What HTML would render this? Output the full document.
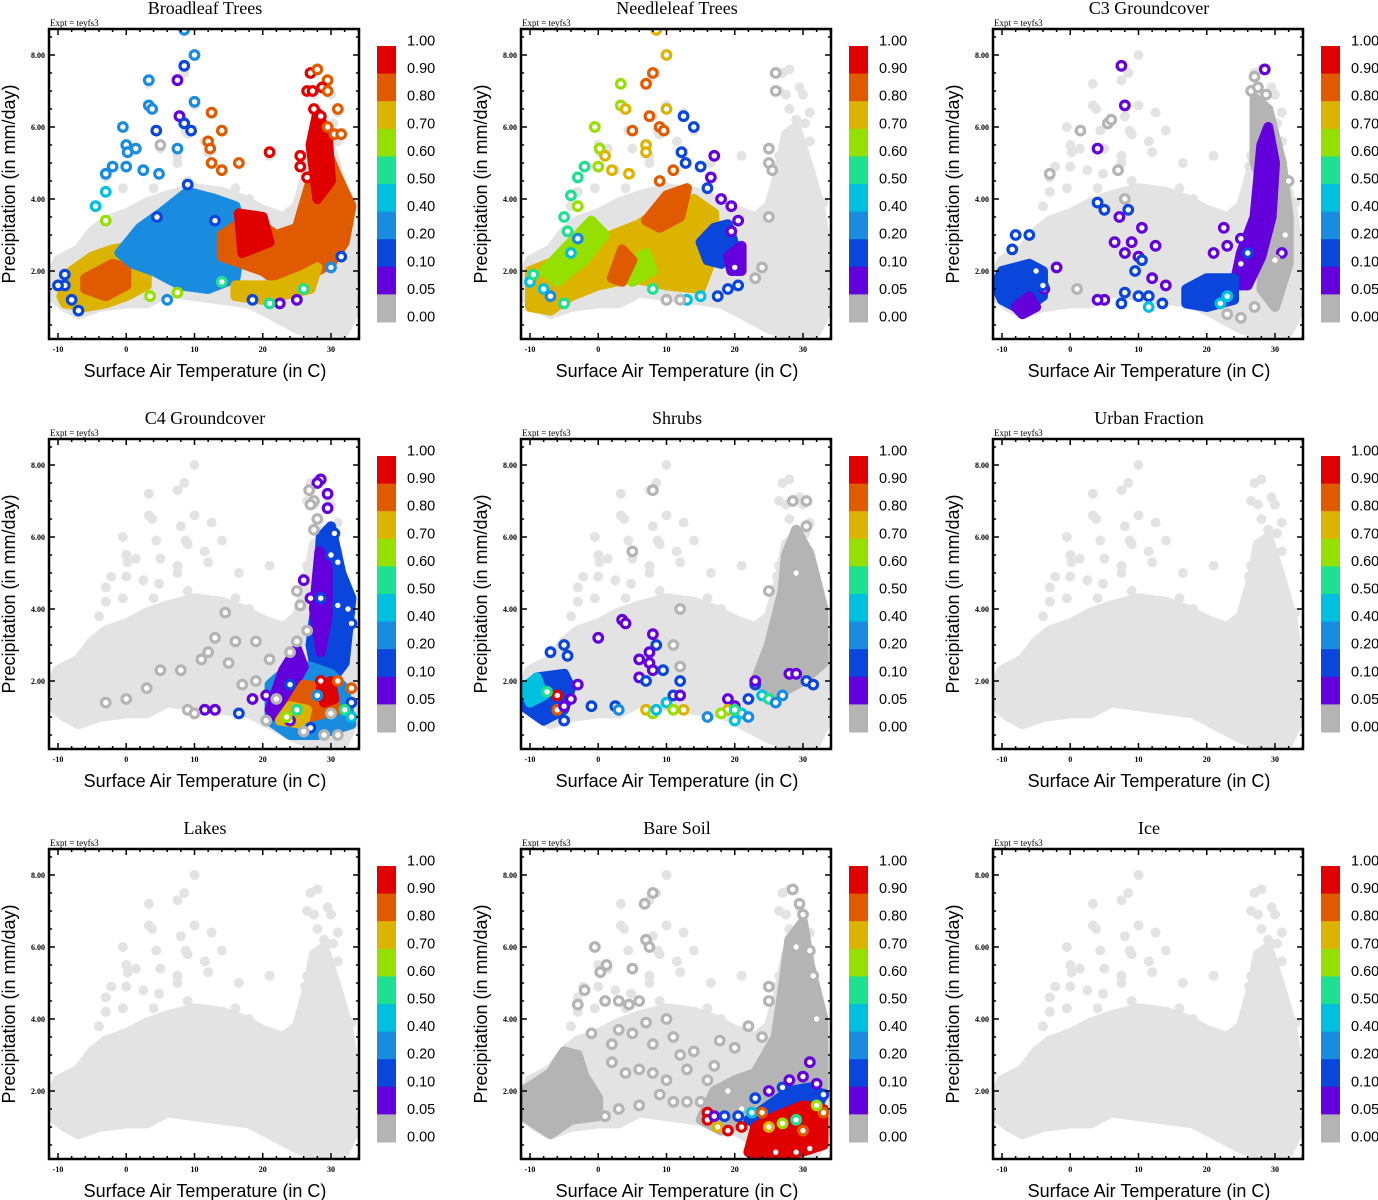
<!DOCTYPE html>
<html><head><meta charset="utf-8"><style>
html,body{margin:0;padding:0;background:#fff;width:1378px;height:1200px;overflow:hidden}
svg{display:block}
</style></head><body>
<svg id="chart" width="1378" height="1200" xmlns="http://www.w3.org/2000/svg"></svg>
<script>
// ---- data (temperature C, precipitation mm/day, colour category) ----
const catColors = ["#e3e3e3","#b4b4b4","#6400dc","#0a46dc","#1a8ce0","#00c0e0","#1ee090","#96e000","#dcb400","#e05a00","#e00000"];
const barLabels = ["1.00","0.90","0.80","0.70","0.60","0.50","0.40","0.20","0.10","0.05","0.00"];
const xTicks = [-10,0,10,20,30];
const yTicks = [2,4,6,8];
const titles = ["Broadleaf Trees","Needleleaf Trees","C3 Groundcover","C4 Groundcover","Shrubs","Urban Fraction","Lakes","Bare Soil","Ice"];
const cloudHull = [[-11,1.9],[-10,2.3],[-7,2.6],[-5,3.1],[-3,3.4],[0,3.6],[3,3.9],[6,4.1],[10,4.3],[14,4.2],[17,4.0],[20,3.7],[23,3.5],[25,3.8],[26.5,4.8],[27.5,5.8],[29,6.0],[31,4.8],[32.5,3.8],[33.5,2.5],[33,1.5],[33.5,0.9],[32,0.3],[28,0.2],[25,0.4],[22,0.7],[20,0.9],[18,1.1],[14,1.2],[10,1.3],[6,1.4],[3,1.1],[0,1.1],[-4,1.0],[-7,0.8],[-9,1.0],[-11,1.3]];
const cloudOutliers = [[10,8.0],[8.5,7.5],[3.3,7.2],[7.5,7.3],[3.3,6.6],[3.8,6.5],[8,6.3],[-0.5,6.0],[8.7,5.9],[9,5.8],[10,6.6],[12.5,6.4],[14,5.9],[4.4,5.9],[0,5.5],[0.2,5.3],[1.4,5.4],[5,5.4],[11.5,5.6],[12,5.3],[7.5,5.2],[7.5,5.0],[21,5.2],[16.5,5.0],[-2.2,4.9],[0,4.9],[2.5,4.8],[-3,4.6],[4.8,4.7],[-0.5,4.3],[27,7.5],[28,7.6],[26.5,7.0],[27.5,6.9],[29.5,7.1],[30,6.9],[31,6.4],[28,6.5],[29,6.2],[30.3,6.1],[28.5,5.9],[31,5.6],[26.5,5.2],[26.2,4.9],[26.5,4.4],[4,4.3],[9,4.5],[-4,3.8],[-3,4.2],[16,4.3],[18,4.0],[33,3.9],[33.5,1.8],[-11,1.6]];

const regions0 = [[8,[[-9.5,1.3],[-8,2.0],[-5,2.4],[-2,2.6],[1,2.7],[3,2.3],[3,1.6],[0,1.3],[-3,1.1],[-6,1.0],[-9,1.1]]],[9,[[-6,1.8],[-4,2.0],[-2,2.2],[0,2.1],[0,1.6],[-3,1.3],[-6,1.5]]],[4,[[-1,2.5],[2,3.2],[5,3.6],[9,4.2],[13,4.0],[16,3.8],[17,3.0],[16,1.8],[12,1.5],[8,1.6],[4,2.0],[1,2.2]]],[9,[[14,3.0],[18,3.5],[22,3.0],[25,3.2],[27,4.5],[29,5.5],[31,4.6],[33,3.8],[32,2.8],[30,2.2],[26,1.8],[23,1.6],[20,2.0],[17,2.2],[14,2.4]]],[10,[[16.5,3.6],[20,3.5],[21,2.8],[17,2.5]]],[10,[[27,5.5],[28,6.4],[29.5,5.8],[30,4.5],[28,4.0]]],[8,[[16,1.6],[22,1.6],[26,1.9],[28,2.1],[27,1.5],[20,1.2],[16,1.3]]]];
const points0 = [[8.5,8.7,4],[10,8.0,4],[8.5,7.7,3],[3.3,7.3,4],[7.5,7.3,2],[3.3,6.6,4],[3.8,6.5,4],[10,6.7,4],[7.8,6.3,2],[12.5,6.4,9],[-0.5,6.0,4],[8.5,6.1,3],[9.5,5.9,3],[14,5.9,9],[4.4,5.9,3],[12,5.6,9],[0,5.5,4],[0.2,5.3,4],[1.4,5.4,4],[7.5,5.4,4],[12.3,5.4,9],[21,5.3,10],[16.5,5.0,9],[-2,4.9,4],[0,4.9,4],[2.5,4.8,4],[-3,4.7,4],[4.8,4.7,4],[12.5,5.0,9],[14,4.8,9],[27,7.5,10],[28,7.6,9],[26.5,7.0,10],[27.3,7.0,10],[29.5,7.3,9],[28.7,7.1,10],[29.5,7.0,9],[31,6.5,9],[27.5,6.5,10],[28.5,6.3,10],[29.5,6.0,9],[30.5,5.8,9],[31.5,5.8,9],[25.5,5.2,10],[25.5,4.9,10],[26.5,4.6,10],[-4.5,3.8,5],[-3,4.2,5],[-3,3.4,7],[5,5.5,1],[31.5,2.4,3],[30,2.1,4],[22.5,1.1,2],[25,1.2,2],[26,1.5,6],[21,1.1,6],[18.5,1.2,3],[13,3.4,3],[9,4.4,3],[4.5,3.5,3],[-7,0.9,3],[-8,1.2,3],[-9,1.6,3],[-10,1.6,3],[-9,1.9,3],[6,1.2,4],[7.5,1.4,7],[3.5,1.3,7],[14,1.7,6]];

const regions1 = [[8,[[-10,1.0],[-10,2.0],[-6,2.3],[-2,2.6],[2,3.0],[6,3.3],[10,3.8],[14,4.0],[17,3.6],[17,2.5],[15,1.5],[10,1.6],[5,1.8],[0,1.6],[-4,1.3],[-7,0.9]]],[7,[[-8,2.0],[-4,2.8],[-1,3.4],[1,3.0],[-2,2.3],[-6,1.7]]],[7,[[3,2.0],[7,2.5],[8,2.0],[5,1.7]]],[9,[[2,1.8],[3.5,2.6],[5,2.3],[3.5,1.7]]],[9,[[7,3.4],[10,4.1],[13,4.3],[12,3.5],[9,3.2]]],[3,[[15,2.8],[17,3.2],[19,3.3],[20,2.7],[18,2.2],[16,2.3]]],[2,[[19,2.4],[21,2.7],[21,2.0],[19.5,2.0]]]];
const points1 = [[8.5,8.7,8],[10,8.0,8],[8,7.5,9],[7,7.2,9],[3.3,7.2,7],[3.3,6.6,7],[4,6.5,8],[10,6.5,8],[12.5,6.3,3],[14,6.0,3],[7.5,6.3,9],[9,6.0,9],[9.6,5.9,9],[5,5.9,9],[-0.5,6.0,7],[0.2,5.4,7],[1,5.2,8],[7,5.5,8],[7,5.3,8],[12.2,5.3,3],[12.8,5.0,3],[17,5.2,2],[15,4.9,3],[-2,4.9,6],[0,4.9,7],[2,4.8,8],[-3,4.6,6],[4.5,4.7,8],[9,4.5,9],[11,4.8,9],[16,4.3,3],[16.5,4.6,2],[18,4.0,2],[19.5,3.8,2],[20.5,3.4,2],[19.5,3.1,2],[20,2.1,2],[20.5,1.6,3],[19,1.5,3],[17.5,1.3,3],[15,1.3,5],[13,1.2,5],[12,1.2,1],[10,1.2,1],[8,1.5,6],[-10,1.7,5],[-9.5,1.9,6],[-8,1.5,5],[-7,1.3,4],[-5,1.1,6],[-4,2.5,5],[-4.5,3.1,6],[-5,3.5,6],[-3,3.8,7],[-4,4.1,6],[-3,2.9,4],[26,7.5,1],[26,7.0,1],[25,5.4,1],[25,5.0,1],[25.5,4.8,1],[25,3.5,1],[24,2.1,1],[23,1.8,1]];

const regions2 = [[3,[[-11,1.6],[-10,2.0],[-6,2.2],[-4,2.0],[-4,1.3],[-7,0.9],[-10,1.2]]],[2,[[-8,1.0],[-6,1.3],[-5,1.0],[-7,0.8]]],[1,[[27,6.8],[29,6.5],[31,5.0],[32,3.5],[32,2.2],[30,1.0],[28,1.5],[29,4],[27,5]]],[2,[[25,2.5],[27,3.5],[28,5.5],[29,6.0],[30,5.0],[29.5,3.5],[28,2.4],[26,1.6],[24,1.6]]],[3,[[17,1.5],[20,1.8],[24,1.8],[24,1.2],[20,1.0],[17,1.1]]]];
const points2 = [[28.5,7.6,2],[7.5,7.7,2],[8,6.6,2],[4,5.4,2],[27,7.4,1],[26.5,7.0,1],[27.5,7.1,1],[28.7,6.9,1],[1.5,5.9,1],[5.5,6.1,1],[6,6.2,1],[-3,4.7,1],[8,4.0,1],[7,4.8,1],[8.5,3.7,3],[4,3.9,3],[5,3.7,3],[-8,3.0,3],[-6,3.0,3],[-8.5,2.6,3],[8,2.5,2],[10,2.4,2],[12.5,2.7,2],[10.5,3.2,2],[7.2,3.5,2],[6.5,2.8,2],[9,2.8,2],[9.5,2.0,3],[10.5,2.3,3],[11.5,1.3,3],[10,1.3,3],[8,1.4,3],[7.5,1.1,3],[13.5,1.1,3],[12,1.8,2],[14,1.6,2],[5,1.2,2],[4,1.2,2],[1,1.5,1],[-2,2.1,2],[-3.8,1.5,2],[-5,2.0,3],[-4,1.6,3],[21,2.5,2],[22.5,3.2,2],[23,2.7,2],[25,2.2,2],[25,2.9,2],[26,2.5,3],[31,2.5,2],[23,1.3,5],[22,1.1,5],[11.5,1.0,5],[32,4.5,1],[31.5,3.0,1],[27,1.0,1],[25,0.7,1],[23,0.8,1],[30,2.3,1]];

const regions3 = [[3,[[27,3.0],[28,4.5],[28.5,6.0],[30,6.3],[31.5,5.0],[33,4.3],[32,2.5],[30,2.0],[28,2.0]]],[2,[[27.5,4],[28.3,5.6],[29.5,5.2],[29.5,3.8],[28.5,2.8]]],[4,[[21,1.9],[24,2.4],[27,2.4],[30,2.2],[32,1.8],[33,0.8],[28,0.5],[24,0.5],[21,0.9]]],[2,[[21,1.2],[23,2.3],[25,2.9],[26,2.4],[24,1.7],[22,1.0]]],[9,[[24,1.3],[26,1.9],[29,1.8],[31,1.2],[27,1.0]]],[8,[[22.5,0.9],[24,1.3],[26.5,1.2],[26,0.8]]],[10,[[28.5,1.8],[30,2.0],[30.5,1.5],[29,1.4]]]];
const points3 = [[28.5,7.6,2],[28,7.5,2],[29.5,7.2,2],[29.5,6.8,2],[30.5,6.1,3],[30,5.5,3],[31,5.3,3],[26,4.8,2],[27,4.3,2],[28.5,4.3,3],[31,4.1,3],[32.5,4.0,3],[33,3.6,3],[11.5,1.2,2],[13,1.2,2],[16.5,1.1,3],[18.5,1.5,2],[20.5,1.6,2],[24,0.9,2],[24,1.9,3],[27,0.7,3],[33,1.4,3],[33,1.0,5],[32,1.2,6],[33,1.8,9],[31,2.0,9],[28.5,2.0,10],[23.5,1.0,7],[25,1.2,6],[28,1.6,4],[27.5,7.0,1],[27,6.9,1],[26.8,7.3,1],[28,6.5,1],[27.5,6.2,1],[25.5,4.1,1],[25,4.5,1],[21,2.6,1],[19,3.1,1],[16,3.1,1],[14.5,3.9,1],[13,3.2,1],[12,2.8,1],[11,2.6,1],[15,2.5,1],[8,2.3,1],[5,2.3,1],[3,1.8,1],[0,1.5,1],[-3,1.4,1],[9,1.2,1],[10,1.1,1],[17,1.9,1],[19,2.0,1],[22,1.5,1],[24,2.8,1],[25,3.1,1],[26.5,3.4,1],[26,0.6,1],[29,0.5,1],[31,0.5,1],[20.5,0.9,1],[30,1.1,1]];

const regions4 = [[1,[[23,2.0],[25,3.0],[27,4.5],[27.5,5.5],[29,6.2],[31,5.5],[33,4],[33,2.5],[30,2.0],[26,1.6]]],[3,[[-11,1.7],[-9,2.1],[-5,2.2],[-4,1.8],[-5,1.2],[-8,0.9],[-11,1.3]]],[5,[[-11,1.8],[-9,2.1],[-8,1.6],[-10,1.4]]]];
const points4 = [[3.5,3.7,2],[4,3.6,2],[-5,3.0,3],[-7,2.8,3],[-4.5,2.7,3],[0,3.2,2],[8,3.3,2],[8.5,3.0,3],[7.5,2.8,2],[7.5,2.5,2],[8,2.3,2],[9.5,2.3,3],[6,2.6,2],[6,2.1,2],[7,2.0,3],[10,1.4,5],[11,1.6,3],[12,2.0,3],[12,1.6,2],[12.5,1.2,8],[11,1.2,7],[7,1.2,8],[8,1.1,7],[8.5,1.2,5],[-1,1.3,3],[2.5,1.3,3],[3,1.2,4],[19,1.5,2],[20,1.3,2],[22,1.5,3],[23,1.9,3],[23,2.0,2],[24,1.6,5],[25,1.5,6],[26,1.4,4],[27,1.6,4],[28,2.2,2],[29,2.2,2],[30.5,2.0,3],[31.5,1.9,3],[21,1.1,5],[22,1.0,4],[20,0.9,5],[19,1.2,8],[20,1.2,6],[18,1.1,7],[16,1.0,4],[-6,1.6,10],[-6,1.2,9],[-7.5,1.7,6],[-5,1.3,2],[-4,1.5,2],[-3,1.9,2],[-5,0.9,3],[8,7.3,1],[5,5.6,1],[25,4.5,1],[28.5,7.0,1],[30.5,6.3,1],[30.5,7.0,1],[29,5.0,1],[12,4.0,1],[11,3.0,1],[12,2.4,1]];

const regions7 = [[1,[[-11,1.3],[-11,2.0],[-7,2.5],[-5,3.1],[-3,3.0],[-2,2.4],[0,1.8],[0,1.3],[-4,1.2],[-7,0.8]]],[1,[[15,1.2],[17,2.0],[20,2.3],[23,2.5],[26,3.5],[27,4.8],[28,6.2],[30,6.7],[31,5.5],[33,4],[33,2],[30,1.5],[24,1.3],[18,0.9]]],[3,[[22,1.2],[25,1.6],[28,2.0],[31,2.1],[33,1.9],[32,1.5],[28,1.5],[24,1.0]]],[10,[[22,0.3],[23,1.0],[26,1.3],[30,1.6],[33,1.5],[33,0.5],[28,0.2],[25,0.1]]]];
const points7 = [[8,7.5,1],[6.8,7.2,1],[7,6.2,1],[7.5,6.0,1],[-0.5,6.0,1],[1.2,5.5,1],[0.3,5.3,1],[5,5.4,1],[-2,4.8,1],[-3,4.4,1],[1,4.5,1],[3,4.5,1],[4.5,4.4,1],[6,4.5,1],[-1,3.6,1],[2,3.3,1],[3,3.7,1],[5,3.6,1],[7,3.9,1],[8,3.3,1],[10,4.0,1],[11,3.5,1],[12,3.0,1],[13,2.6,1],[6,2.6,1],[4,2.5,1],[2,2.8,1],[8,2.5,1],[10,2.3,1],[9,1.9,1],[11,1.7,1],[13,1.7,1],[6,1.6,1],[3,1.5,1],[1,1.3,1],[15,1.7,1],[17,2.7,1],[20,3.2,1],[22,3.8,1],[24,3.5,1],[25,4.9,1],[25,4.5,1],[28.5,7.6,1],[29.5,7.2,1],[30,6.9,1],[29,6.0,1],[31,5.9,1],[31.5,5.2,1],[32,4.0,1],[17.8,3.4,1],[14,3.1,1],[16,2.3,1],[19,2.0,1],[21,1.5,1],[16,1.4,10],[16,1.2,10],[17,1.3,2],[18.5,1.3,3],[17.5,1.0,8],[19,0.9,10],[20.5,1.3,3],[21,1.0,10],[22.5,1.4,5],[23,1.8,3],[25,2.0,2],[27,2.1,3],[28,2.3,2],[30,2.4,2],[31,2.8,2],[32,2.2,2],[33,1.9,3],[33,1.4,9],[32,1.6,7],[24,1.4,9],[25,1.0,8],[27,1.1,7],[29,1.2,6],[30,0.9,9],[26,0.3,10],[29,0.3,10],[31,0.4,10]];

const panelRegions = [regions0,regions1,regions2,regions3,regions4,[],[],regions7,[]];
const panelPoints = [points0,points1,points2,points3,points4,[],[],points7,[]];

// ---- drawing ----
const NS="http://www.w3.org/2000/svg";
const svg=document.getElementById('chart');
function mk(tag,attrs,parent){const e=document.createElementNS(NS,tag);for(const k in attrs)e.setAttribute(k,attrs[k]);(parent||svg).appendChild(e);return e;}
const BL=49,BR=359,BT=29,BB=339;
function xs(t){return 58+(t+10)*6.825;}
function ys(p){return 55+(8-p)*36;}
const panelKeys=["broadleaf","needleleaf","c3","c4","shrubs","urban","lakes","bare-soil","ice"];

for(let i=0;i<9;i++){
  const ox=(i%3)*472, oy=Math.floor(i/3)*410;
  const g=mk('g',{transform:`translate(${ox},${oy})`});
  
  
  const t=mk('text',{x:205,y:14,'text-anchor':'middle','font-family':'Liberation Serif, serif','font-size':18},g);
  t.textContent=titles[i];
  
  
  const ex=mk('text',{x:50,y:26,'font-family':'Liberation Serif, serif','font-size':9},g);
  ex.textContent='Expt = teyfs3';
  
  
  const cp=mk('clipPath',{id:'clip'+i},g);
  mk('rect',{x:BL,y:BT,width:BR-BL,height:BB-BT},cp);
  const plot=mk('g',{'clip-path':`url(#clip${i})`},g);
  
  
  const hull=mk('polygon',{points:cloudHull.map(d=>xs(d[0])+','+ys(d[1])).join(' '),fill:catColors[0],stroke:catColors[0],'stroke-width':10,'stroke-linejoin':'round'},plot);
  
  
  cloudOutliers.forEach(d=>{
    const c=mk('circle',{cx:xs(d[0]),cy:ys(d[1]),r:5,fill:catColors[0]},plot);
    
    
  });
  panelRegions[i].forEach(r=>{
    const pg=mk('polygon',{points:r[1].map(d=>xs(d[0])+','+ys(d[1])).join(' '),fill:catColors[r[0]],stroke:catColors[r[0]],'stroke-width':10,'stroke-linejoin':'round'},plot);
    
    
  });
  panelPoints[i].forEach(d=>{
    const c=mk('circle',{cx:xs(d[0]),cy:ys(d[1]),r:4.3,fill:'#fff',stroke:catColors[d[2]],'stroke-width':3.2},plot);
    
    
  });
  const fr=mk('rect',{x:BL,y:BT,width:BR-BL,height:BB-BT,fill:'none',stroke:'#000','stroke-width':2.5},g);
  
  
  const tk=mk('g',{stroke:'#000','stroke-width':1.5},g);
  
  
  for(let v=-10;v<=34;v+=2){const x=xs(v);const L=(v%10===0)?6:3;mk('line',{x1:x,y1:BB,x2:x,y2:BB-L},tk);mk('line',{x1:x,y1:BT,x2:x,y2:BT+L},tk);}
  for(let v=0.5;v<=8.5;v+=0.5){const y=ys(v);if(y<BT||y>BB)continue;const L=(v%2===0)?6:3;mk('line',{x1:BL,y1:y,x2:BL+L,y2:y},tk);mk('line',{x1:BR,y1:y,x2:BR-L,y2:y},tk);}
  xTicks.forEach(v=>{const tt=mk('text',{x:xs(v),y:352,'text-anchor':'middle','font-family':'Liberation Serif, serif','font-size':8,'font-weight':'bold'},g);tt.textContent=v;
    
    });
  yTicks.forEach(v=>{const tt=mk('text',{x:45,y:ys(v)+3,'text-anchor':'end','font-family':'Liberation Serif, serif','font-size':8,'font-weight':'bold'},g);tt.textContent=v.toFixed(2);
    
    });
  const xt=mk('text',{x:205,y:377,'text-anchor':'middle','font-family':'Liberation Sans, sans-serif','font-size':18},g);
  xt.textContent='Surface Air Temperature (in C)';
  
  
  const yt=mk('text',{x:0,y:0,'text-anchor':'middle','font-family':'Liberation Sans, sans-serif','font-size':18,transform:'translate(15,184) rotate(-90)'},g);
  yt.textContent='Precipitation (in mm/day)';
  
  
  const cb=mk('g',{},g);
  
  
  const h=27.6;
  for(let k=0;k<10;k++){
    const r=mk('rect',{x:377,y:46+k*h,width:19,height:h+0.5,fill:catColors[10-k]},cb);
    
    
  }
  barLabels.forEach((l,k)=>{const tt=mk('text',{x:407,y:46+k*h-0.5,'font-family':'Liberation Sans, sans-serif','font-size':14.5},cb);tt.textContent=l;
    
    });
}
</script>
</body></html>
